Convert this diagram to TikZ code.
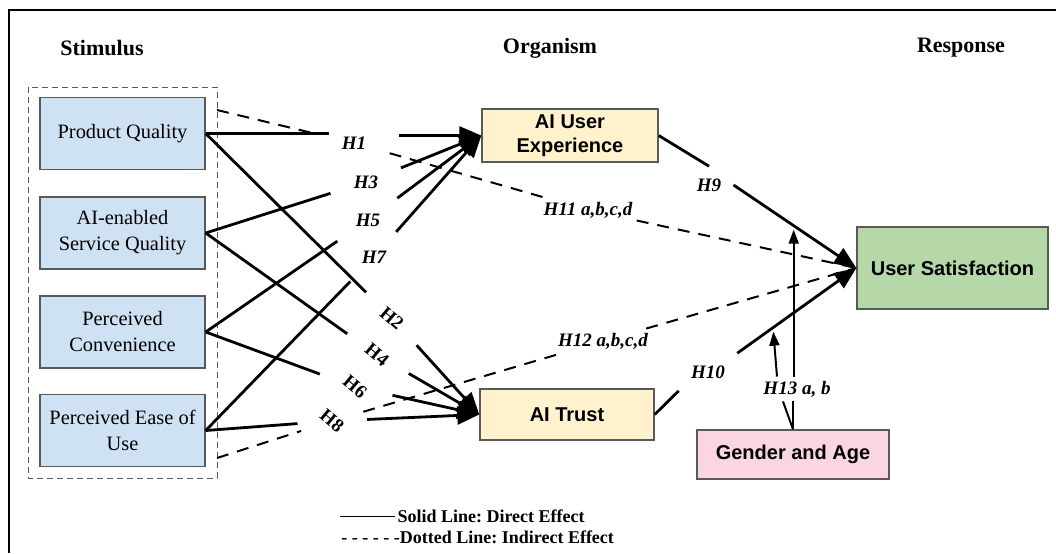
\documentclass[tikz,border=0pt]{standalone}
\usepackage{fontspec}
\setmainfont{Liberation Serif}
\setsansfont{Liberation Sans}
\usetikzlibrary{arrows.meta}
\definecolor{stimblue}{HTML}{CFE2F3}
\definecolor{orgyellow}{HTML}{FFF2CC}
\definecolor{resgreen}{HTML}{B6D7A8}
\definecolor{modpink}{HTML}{FAD6E0}
\frenchspacing
\begin{document}
\begin{tikzpicture}[x=0.5pt,y=-0.5pt,
    hd/.style={font=\fontsize{11}{13}\selectfont\bfseries},
    stim/.style={draw=gray!70!black, line width=0.7pt, fill=stimblue, minimum width=82.5pt, minimum height=36pt, align=center, font=\fontsize{10.2}{13}\selectfont},
    org/.style={draw=gray!70!black, line width=0.7pt, fill=orgyellow, inner sep=1pt, align=center, font=\sffamily\bfseries\fontsize{10}{12}\selectfont},
    hyp/.style={inner sep=1pt, font=\fontsize{9.5}{11}\selectfont\bfseries\itshape},
    hypr/.style={hyp, rotate=-40, font=\fontsize{9.5}{11}\selectfont\bfseries},
    hyplab/.style={inner sep=6pt, font=\fontsize{9.5}{11}\selectfont\bfseries\itshape},
    hypbox/.style={inner sep=2pt, font=\fontsize{9.5}{11}\selectfont\bfseries\itshape},
    dir/.style={line width=1.4pt},
    tip/.style={-{Triangle[length=11pt,width=9pt]}},
    gapin/.style={shorten >=11pt},
    gapout/.style={shorten <=11pt},
    ind/.style={line width=1pt, dash pattern=on 6pt off 4.5pt},
    grp/.style={line width=0.5pt, gray!70!black, dash pattern=on 3pt off 2pt},
    mod/.style={line width=1pt},
    modtip/.style={-{Triangle[length=7pt,width=5pt]}, shorten >=2pt},
    leg/.style={font=\fontsize{9}{11}\selectfont\bfseries}]

    \fill[white] (0,0) rectangle (1056,553);
    \useasboundingbox (0,0) rectangle (1056,553);
    \draw[line width=1pt] (9,553) -- (9,10) -- (1056,10);

    \node[hd] (st) at (102,48) {Stimulus};
    \node[hd] (or) at (550,48) {Organism};
    \node[hd] (re) at (961,48) {Response};

    \draw[grp] (28,87) rectangle (217,478);
    \coordinate (g1) at (217,110);
    \coordinate (g2) at (217,458);

    \node[stim] (pq) at (122.5,133.5) {Product Quality};
    \node[stim] (sq) at (122.5,233) {AI-enabled\\Service Quality};
    \node[stim] (pc) at (122.5,332) {Perceived\\Convenience};
    \node[stim] (pe) at (122.5,430.5) {Perceived Ease of\\Use};

    \node[org, minimum width=88pt, minimum height=26.5pt] (ux) at (570,135.5) {AI User\\Experience};
    \node[org, minimum width=87pt, minimum height=25.5pt] (tr) at (567,414.5) {AI Trust};
    \node[org, fill=resgreen, minimum width=95.5pt, minimum height=41pt] (us) at (952.5,268) {User Satisfaction};
    \node[org, fill=modpink, minimum width=96pt, minimum height=24.5pt] (ga) at (793,454.5) {Gender and Age};

    \node[hyp] (h1) at (354,143) {H1};
    \node[hyp] (h3) at (366,182) {H3};
    \node[hyp] (h5) at (368,220) {H5};
    \node[hyp] (h7) at (374,257) {H7};
    \node[hypr] (h2) at (392,318) {H2};
    \node[hypr] (h4) at (377,355) {H4};
    \node[hypr] (h6) at (355,387) {H6};
    \node[hypr] (h8) at (332,421) {H8};
    \node[hyplab] (h9) at (709,185) {H9};
    \node[hyplab] (h10) at (708,372) {H10};
    \node[hypbox] (h11) at (588,210) {H11 a,b,c,d};
    \node[hypbox] (h12) at (603,341) {H12 a,b,c,d};
    \node[hypbox] (h13) at (797,389) {H13 a, b};

    \draw[dir, shorten >=5pt] (pq.east) -- (pq.east -| h1.west);
    \draw[dir,tip, shorten <=15pt] (h1.east |- ux.west) -- (ux.west);
    \draw[dir,gapin] (sq.east) -- (h3);
    \draw[dir,tip,gapout] (h3) -- (ux.west);
    \draw[dir,gapin] (pc.east) -- (h5);
    \draw[dir,tip,gapout] (h5) -- (ux.west);
    \draw[dir,gapin] (pe.east) -- (h7);
    \draw[dir,tip,gapout] (h7) -- (ux.west);

    \draw[dir,gapin] (pq.east) -- (h2);
    \draw[dir,tip,gapout] (h2) -- (tr.west);
    \draw[dir,gapin] (sq.east) -- (h4);
    \draw[dir,tip,gapout] (h4) -- (tr.west);
    \draw[dir,gapin] (pc.east) -- (h6);
    \draw[dir,tip,gapout] (h6) -- (tr.west);
    \draw[dir,gapin] (pe.east) -- (h8);
    \draw[dir,tip,gapout] (h8) -- (tr.west);

    \draw[ind,gapin] (g1) -- (h1);
    \draw[ind,gapout] (h1) -- (h11);
    \draw[ind] (h11) -- (us.west);
    \draw[ind,gapin] (g2) -- (h8);
    \draw[ind,gapout] (h8) -- (h12);
    \draw[ind] (h12) -- (us.west);

    \draw[dir] (ux.east) -- (h9.north);
    \draw[dir,tip] (h9.east) -- coordinate[pos=0.49] (m9) (us.west);
    \draw[dir] (tr.east) -- (h10.south west);
    \draw[dir,tip] (h10.north east) -- coordinate[pos=0.3] (m10) (us.west);

    \draw[mod] (ga.north) -- (ga.north |- h13.south);
    \draw[mod] (ga.north) -- ([xshift=-5pt]ga.north |- h13.south);
    \draw[mod,modtip] (m9 |- h13.north) -- (m9);
    \draw[mod,modtip] ([xshift=-8pt]ga.north |- h13.north) -- (m10);

    \draw[line width=0.5pt] (340,516) -- (395,516) node[leg, right, inner sep=1pt] (lg1) {Solid Line: Direct Effect};
    \node[leg, anchor=west, inner sep=1pt] (lg2) at (339,537) {- - - - - -Dotted Line: Indirect Effect};

  \end{tikzpicture}
\end{document}
